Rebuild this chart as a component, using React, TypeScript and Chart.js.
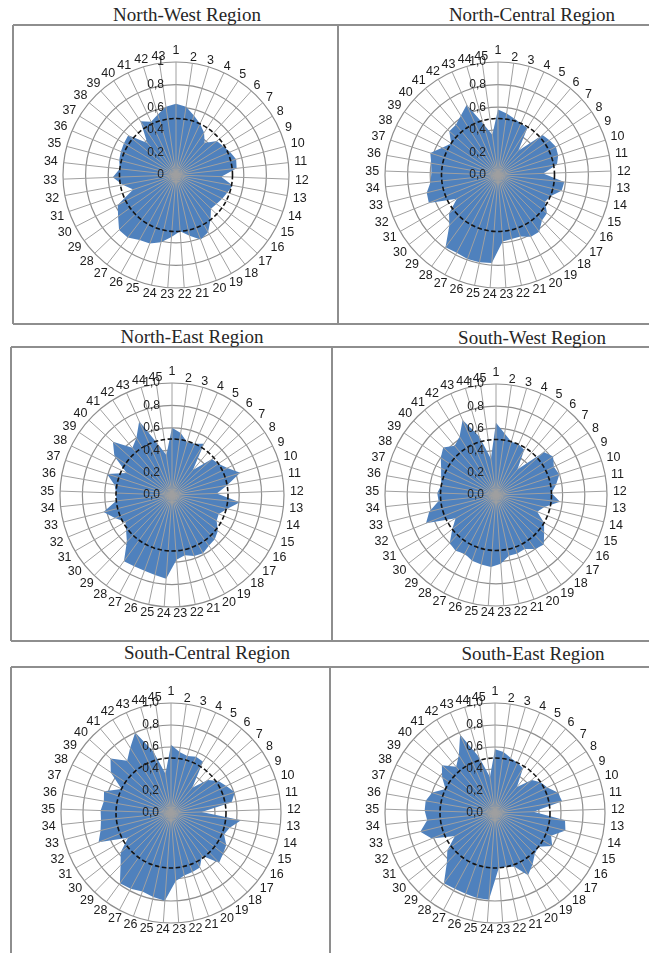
import React, { useEffect, useRef } from "react";
import { Chart, registerables } from "chart.js";

Chart.register(...registerables);

// ---- categories ----
const labels43 = ["1","2","3","4","5","6","7","8","9","10","11","12","13","14","15","16","17","18","19","20","21","22","23","24","25","26","27","28","29","30","31","32","33","34","35","36","37","38","39","40","41","42","43"];
const labels45 = ["1","2","3","4","5","6","7","8","9","10","11","12","13","14","15","16","17","18","19","20","21","22","23","24","25","26","27","28","29","30","31","32","33","34","35","36","37","38","39","40","41","42","43","44","45"];

// ---- value axis ----
const tickValues = [0, 0.2, 0.4, 0.6, 0.8, 1.0];
const tickLabelsNW = ["0", "0,2", "0,4", "0,6", "0,8", "1"];
const tickLabelsOther = ["0,0", "0,2", "0,4", "0,6", "0,8", "1,0"];
const referenceLevel = 0.5;

// ---- series values ----
const northWestValues = [0.63,0.61,0.55,0.50,0.45,0.38,0.47,0.49,0.52,0.55,0.54,0.40,0.51,0.48,0.46,0.44,0.43,0.50,0.58,0.61,0.55,0.50,0.55,0.61,0.65,0.66,0.70,0.70,0.63,0.58,0.40,0.48,0.56,0.50,0.52,0.53,0.54,0.55,0.38,0.57,0.52,0.56,0.61];
const northCentralValues = [0.58,0.55,0.52,0.50,0.49,0.28,0.53,0.55,0.57,0.56,0.53,0.40,0.59,0.58,0.50,0.48,0.55,0.56,0.62,0.62,0.58,0.58,0.59,0.78,0.79,0.79,0.78,0.79,0.62,0.55,0.42,0.66,0.65,0.60,0.59,0.60,0.63,0.55,0.50,0.58,0.58,0.62,0.68,0.47,0.36];
const northEastValues = [0.60,0.56,0.49,0.50,0.54,0.29,0.48,0.50,0.55,0.64,0.50,0.40,0.61,0.51,0.45,0.46,0.52,0.55,0.56,0.59,0.58,0.55,0.58,0.75,0.73,0.72,0.72,0.73,0.58,0.52,0.48,0.55,0.63,0.50,0.50,0.52,0.61,0.45,0.62,0.71,0.55,0.60,0.72,0.48,0.36];
const southWestValues = [0.65,0.56,0.50,0.50,0.48,0.30,0.58,0.62,0.58,0.60,0.55,0.50,0.58,0.45,0.40,0.50,0.55,0.62,0.60,0.55,0.56,0.56,0.62,0.65,0.64,0.63,0.60,0.62,0.60,0.50,0.42,0.68,0.62,0.52,0.53,0.50,0.52,0.55,0.60,0.64,0.58,0.62,0.74,0.55,0.33];
const southCentralValues = [0.62,0.56,0.54,0.56,0.55,0.30,0.45,0.52,0.56,0.61,0.56,0.28,0.64,0.55,0.52,0.58,0.60,0.63,0.48,0.56,0.57,0.58,0.62,0.80,0.78,0.76,0.78,0.79,0.66,0.58,0.45,0.71,0.66,0.64,0.64,0.62,0.64,0.50,0.66,0.74,0.62,0.70,0.80,0.58,0.36];
const southEastValues = [0.58,0.56,0.52,0.50,0.48,0.31,0.45,0.50,0.53,0.60,0.62,0.35,0.64,0.66,0.55,0.60,0.50,0.52,0.58,0.64,0.52,0.50,0.50,0.79,0.79,0.78,0.78,0.79,0.63,0.55,0.42,0.62,0.70,0.62,0.64,0.64,0.60,0.50,0.58,0.65,0.55,0.62,0.78,0.53,0.33];

const BLUE = "#4F81BD";
const GRID = "#8e8e8e";
const SPOKE = "#a0a0a0";
const FRAME = "#8e8e8e";
const CAT_FONT = '12.5px "Liberation Sans", Arial, sans-serif';
const TICK_FONT = '12px "Liberation Sans", Arial, sans-serif';

const overlayPlugin = {
  id: "overlay",
  afterDatasetsDraw(chart: any, _args: any, opts: any) {
    const scale = chart.scales.r;
    const ctx = chart.ctx;
    const labels: string[] = chart.data.labels;
    const n = labels.length;
    const xC = scale.xCenter;
    const yC = scale.yCenter;
    const R = scale.drawingArea;
    ctx.save();
    // spokes drawn over the filled area
    ctx.strokeStyle = SPOKE;
    ctx.lineWidth = 1;
    for (let i = 0; i < n; i++) {
      const p = scale.getPointPositionForValue(i, scale.max);
      ctx.beginPath();
      ctx.moveTo(xC, yC);
      ctx.lineTo(p.x, p.y);
      ctx.stroke();
    }
    // dashed reference ring
    const r = scale.getDistanceFromCenterForValue(opts.refLevel);
    ctx.setLineDash([4.5, 2.5]);
    ctx.strokeStyle = "#141414";
    ctx.lineWidth = 1.6;
    ctx.beginPath();
    ctx.arc(xC, yC, r, 0, Math.PI * 2);
    ctx.stroke();
    ctx.setLineDash([]);
    // value-axis labels
    ctx.font = TICK_FONT;
    ctx.fillStyle = "#222";
    ctx.textAlign = "right";
    ctx.textBaseline = "middle";
    opts.tickValues.forEach((v: number, k: number) => {
      const d = scale.getDistanceFromCenterForValue(v);
      ctx.fillText(opts.tickLabels[k], xC - 12, yC - d);
    });
    // category labels around the ring
    ctx.font = CAT_FONT;
    ctx.fillStyle = "#1c1c1c";
    ctx.textAlign = "center";
    for (let i = 0; i < n; i++) {
      const theta = scale.getIndexAngle(i);
      const w = ctx.measureText(labels[i]).width;
      const extra = i === 0 ? 6 : 0;
      const dist = R + 6 + Math.abs(Math.sin(theta)) * (w / 2) + extra;
      const p = scale.getPointPosition(i, dist);
      ctx.fillText(labels[i], p.x, p.y + 0.5);
    }
    ctx.restore();
  },
};

type PanelProps = {
  labels: string[];
  values: number[];
  tickLabels: string[];
  cx: number;
  cy: number;
  radius: number;
};

const SIZE = 300;

function RadarPanel({ labels, values, tickLabels, cx, cy, radius }: PanelProps) {
  const ref = useRef<HTMLCanvasElement>(null);
  useEffect(() => {
    if (!ref.current) return;
    const chart = new Chart(ref.current, {
      type: "radar",
      data: {
        labels,
        datasets: [
          {
            data: values,
            backgroundColor: BLUE,
            borderWidth: 0,
            pointRadius: 0,
            fill: "origin",
          },
        ],
      },
      options: {
        animation: false,
        responsive: false,
        maintainAspectRatio: false,
        layout: { padding: SIZE / 2 - radius },
        plugins: {
          legend: { display: false },
          tooltip: { enabled: false },
          overlay: { refLevel: referenceLevel, tickValues, tickLabels },
        } as any,
        scales: {
          r: {
            min: 0,
            max: 1,
            ticks: { stepSize: 0.2, display: false },
            grid: { circular: true, color: GRID, lineWidth: 1.2 },
            angleLines: { display: false },
            pointLabels: { display: false },
          },
        },
      },
      plugins: [overlayPlugin],
    });
    return () => chart.destroy();
  }, []);
  return (
    <canvas
      ref={ref}
      width={SIZE}
      height={SIZE}
      style={{ position: "absolute", left: cx - SIZE / 2, top: cy - SIZE / 2, width: SIZE, height: SIZE }}
    />
  );
}

const panels = [
  { title: "North-West Region", labels: labels43, values: northWestValues, tickLabels: tickLabelsNW, cx: 176, cy: 175, radius: 113, tx: 187, tb: 21 },
  { title: "North-Central Region", labels: labels45, values: northCentralValues, tickLabels: tickLabelsOther, cx: 498, cy: 175, radius: 113, tx: 532, tb: 21 },
  { title: "North-East Region", labels: labels45, values: northEastValues, tickLabels: tickLabelsOther, cx: 172, cy: 495, radius: 112, tx: 192, tb: 343 },
  { title: "South-West Region", labels: labels45, values: southWestValues, tickLabels: tickLabelsOther, cx: 496, cy: 495, radius: 111, tx: 532, tb: 344 },
  { title: "South-Central Region", labels: labels45, values: southCentralValues, tickLabels: tickLabelsOther, cx: 171, cy: 813, radius: 110, tx: 207, tb: 659 },
  { title: "South-East Region", labels: labels45, values: southEastValues, tickLabels: tickLabelsOther, cx: 495, cy: 813, radius: 110, tx: 533, tb: 660 },
];

const hLines = [
  { y: 25, x1: 13, x2: 649 },
  { y: 324, x1: 13, x2: 649 },
  { y: 347, x1: 11, x2: 649 },
  { y: 641, x1: 11, x2: 649 },
  { y: 667, x1: 11, x2: 649 },
];
const vLines = [
  { x: 13, y1: 25, y2: 324 },
  { x: 338, y1: 25, y2: 324 },
  { x: 11, y1: 347, y2: 641 },
  { x: 332, y1: 347, y2: 641 },
  { x: 11, y1: 667, y2: 953 },
  { x: 330, y1: 667, y2: 953 },
];

export default function App() {
  return (
    <div
      style={{
        position: "absolute",
        left: 0,
        top: 0,
        width: 649,
        height: 953,
        overflow: "hidden",
        background: "#fff",
      }}
    >
      {hLines.map((l, i) => (
        <div key={"h" + i} style={{ position: "absolute", left: l.x1, top: l.y - 1, width: l.x2 - l.x1, height: 2, background: FRAME }} />
      ))}
      {vLines.map((l, i) => (
        <div key={"v" + i} style={{ position: "absolute", left: l.x - 1, top: l.y1, width: 2, height: l.y2 - l.y1, background: FRAME }} />
      ))}
      {panels.map((p, i) => (
        <div
          key={"t" + i}
          style={{
            position: "absolute",
            left: p.tx - 200,
            width: 400,
            top: p.tb - 16,
            fontFamily: '"Liberation Serif", "Times New Roman", serif',
            fontSize: 19,
            lineHeight: "19px",
            textAlign: "center",
            color: "#262626",
            whiteSpace: "nowrap",
          }}
        >
          {p.title}
        </div>
      ))}
      {panels.map((p, i) => (
        <RadarPanel key={"c" + i} labels={p.labels} values={p.values} tickLabels={p.tickLabels} cx={p.cx} cy={p.cy} radius={p.radius} />
      ))}
    </div>
  );
}
